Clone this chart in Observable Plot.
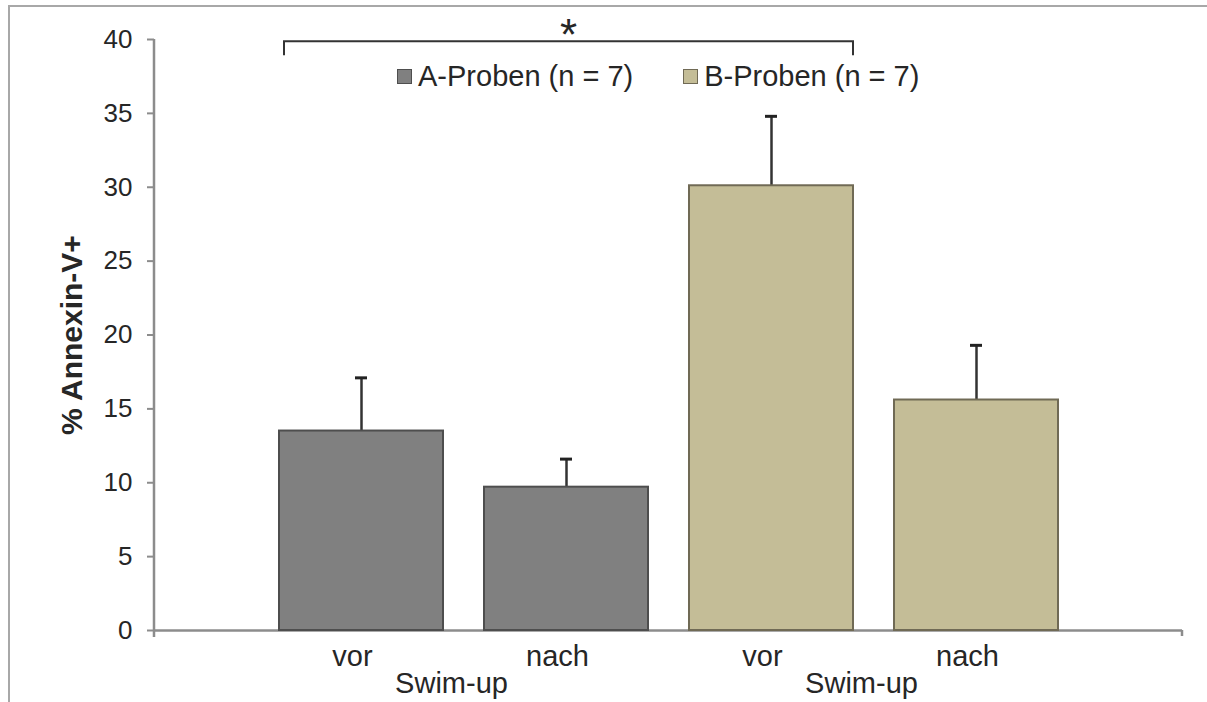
<!DOCTYPE html>
<html><head><meta charset="utf-8">
<script src="https://cdn.jsdelivr.net/npm/d3@7"></script>
<script src="https://cdn.jsdelivr.net/npm/@observablehq/plot@0.6"></script>
<style>
html,body{margin:0;padding:0;background:#fff;overflow:hidden;}
#wrap{position:relative;width:1207px;height:702px;font-family:"Liberation Sans",Arial,sans-serif;}
#chart{position:absolute;left:0;top:0;}
#frame{position:absolute;left:8px;top:5px;right:0;bottom:0;border-top:2px solid #a8a8a8;border-left:2px solid #a8a8a8;pointer-events:none;}
#legend{position:absolute;top:60px;left:397px;display:flex;gap:50px;font-size:29px;line-height:33px;color:#262626;white-space:nowrap;}
.item{display:flex;align-items:center;gap:6px;}
.sw{width:13px;height:13px;}
</style></head><body>
<div id="wrap"><div id="chart"></div><div id="legend"></div><div id="frame"></div></div>
<script>
// ---- data ----
const groups = ["A-Proben (n = 7)", "B-Proben (n = 7)"];
const groupColors = ["#808080", "#c4bd97"];
const groupStrokes = ["#4e4e4e", "#706a55"];
const categories = ["A vor", "A nach", "B vor", "B nach"];
const catLabels = ["vor", "nach", "vor", "nach"];
const catGroup = [0, 0, 1, 1];
const means = [13.5, 9.7, 30.1, 15.6];
const errors = [3.6, 1.9, 4.7, 3.7];
const yTicks = [0, 5, 10, 15, 20, 25, 30, 35, 40];
const yLabel = "% Annexin-V+";
const groupLabel = "Swim-up";
const sigPair = ["A vor", "B vor"];
const sigMark = "*";
const sigLevel = 39.85;
const sigFoot = 38.9;

const rows = categories.map((c, i) => ({
  cat: c, label: catLabels[i], group: catGroup[i], mean: means[i], err: errors[i], top: means[i] + errors[i]
}));

const axisGray = "#8c8c8c";
const textColor = "#262626";

function overlay(index, scales, values, dims) {
  const x = scales.x, y = scales.y;
  const bw = typeof x.bandwidth === "function" ? x.bandwidth() : x.bandwidth;
  const {marginLeft, marginRight, width, marginTop} = dims;
  const xl = marginLeft, xr = width - marginRight, y0 = y(0);
  const g = d3.create("svg:g");
  // y axis line
  g.append("line").attr("x1", xl).attr("x2", xl).attr("y1", marginTop).attr("y2", y0 + 7)
    .attr("stroke", axisGray).attr("stroke-width", 2.5);
  // right end tick of x axis
  g.append("line").attr("x1", xr).attr("x2", xr).attr("y1", y0).attr("y2", y0 + 6)
    .attr("stroke", axisGray).attr("stroke-width", 2.5);
  // significance bracket
  const bx1 = x(sigPair[0]) + 5, bx2 = x(sigPair[1]) + bw;
  const by = y(sigLevel), bf = y(sigFoot);
  g.append("path").attr("d", `M${bx1},${bf}V${by}H${bx2}V${bf}`)
    .attr("fill", "none").attr("stroke", "#333").attr("stroke-width", 2);
  g.append("text").attr("x", (bx1 + bx2) / 2).attr("y", by + 9)
    .attr("text-anchor", "middle").attr("font-size", 44).attr("fill", textColor).text(sigMark);
  // group labels
  [0, 1].forEach(gi => {
    const cats = categories.filter((c, i) => catGroup[i] === gi);
    const cx = (x(cats[0]) + x(cats[cats.length - 1])) / 2 + bw / 2 - 12;
    g.append("text").attr("x", cx).attr("y", y0 + 63)
      .attr("text-anchor", "middle").attr("font-size", 29).attr("fill", textColor).text(groupLabel);
  });
  return g.node();
}

const chart = Plot.plot({
  width: 1207,
  height: 702,
  marginTop: 39,
  marginBottom: 72,
  marginLeft: 154,
  marginRight: 25,
  style: {fontFamily: "'Liberation Sans', Arial, sans-serif", background: "transparent", color: textColor},
  x: {type: "band", domain: categories, paddingInner: 0.2, paddingOuter: 0.6, axis: null},
  y: {domain: [0, 40], axis: null},
  marks: [
    Plot.ruleY([0], {stroke: axisGray, strokeWidth: 2.5}),
    Plot.axisY({ticks: yTicks, tickSize: 7, tickPadding: 15, fontSize: 26, stroke: axisGray, strokeWidth: 2, fill: textColor, label: null, tickFormat: d => String(d)}),
    Plot.ruleX(rows, {x: "cat", y1: "mean", y2: "top", stroke: "#333", strokeWidth: 2.5}),
    Plot.tickY(rows, {x: "cat", y: "top", stroke: "#222", strokeWidth: 3, insetLeft: 76, insetRight: 76}),
    ...groups.map((g, gi) => Plot.barY(rows.filter(d => d.group === gi), {
      x: "cat", y: "mean", fill: groupColors[gi], stroke: groupStrokes[gi], strokeWidth: 2
    })),
    Plot.text(rows, {x: "cat", text: "label", frameAnchor: "bottom", lineAnchor: "top", dy: 15, dx: -9, fontSize: 29, fill: textColor}),
    Plot.text([yLabel], {frameAnchor: "left", textAnchor: "middle", rotate: -90, dx: -82, fontSize: 30, fontWeight: "bold", fill: textColor}),
    overlay
  ]
});
document.getElementById("chart").appendChild(chart);

// legend
const legend = d3.select("#legend");
groups.forEach((g, gi) => {
  const item = legend.append("div").attr("class", "item");
  item.append("div").attr("class", "sw")
    .style("background", groupColors[gi]).style("border", `1px solid ${groupStrokes[gi]}`);
  item.append("span").text(g);
});
</script>
</body></html>
